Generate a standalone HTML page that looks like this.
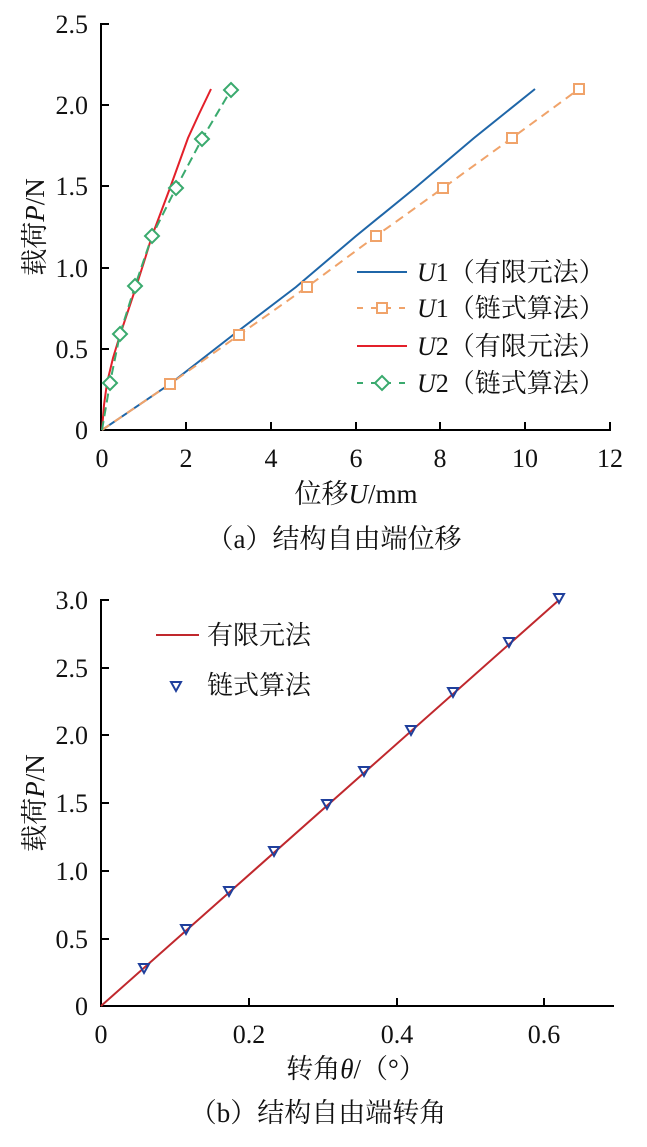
<!DOCTYPE html>
<html><head><meta charset="utf-8"><style>
body{margin:0;background:#fff}
text{font-family:"Liberation Serif","Noto Serif CJK SC",serif;fill:#111}
</style></head><body>
<svg width="647" height="1142" xmlns="http://www.w3.org/2000/svg">
<g stroke="#000" stroke-width="2" fill="none">
<path d="M101,23 V430 H611"/>
<path d="M101,349H109M101,268H109M101,186H109M101,105H109M101,24H109"/>
<path d="M186,430V422M271,430V422M356,430V422M440,430V422M525,430V422M610,430V422"/>
</g>
<g font-size="26" text-anchor="end">
<text x="88" y="439">0</text><text x="88" y="358">0.5</text><text x="88" y="277">1.0</text><text x="88" y="195">1.5</text><text x="88" y="114">2.0</text><text x="88" y="33">2.5</text>
</g>
<g font-size="26" text-anchor="middle">
<text x="102" y="467">0</text><text x="186" y="467">2</text><text x="271" y="467">4</text><text x="356" y="467">6</text><text x="440" y="467">8</text><text x="525" y="467">10</text><text x="610" y="467">12</text>
</g>
<text x="356" y="503" font-size="27" text-anchor="middle">位移<tspan font-style="italic">U</tspan>/mm</text>
<text x="334" y="548" font-size="27" text-anchor="middle">（a）结构自由端位移</text>
<text transform="translate(44,227) rotate(-90)" font-size="27" text-anchor="middle">载荷<tspan font-style="italic">P</tspan>/N</text>
<polyline fill="none" stroke="#1f66a8" stroke-width="2" points="102,430 170,384 233,335 296,287 356,236 415,188 474,138 535,89"/>
<polyline fill="none" stroke="#f0a36a" stroke-width="2" stroke-dasharray="9,6" points="102,430 170,384 239,335 307,287 376,236 443,188 512,138 579,89"/>
<g fill="#fff" stroke="#f0a36a" stroke-width="2">
<rect x="165" y="379" width="10" height="10"/><rect x="234" y="330" width="10" height="10"/><rect x="302" y="282" width="10" height="10"/><rect x="371" y="231" width="10" height="10"/><rect x="438" y="183" width="10" height="10"/><rect x="507" y="133" width="10" height="10"/><rect x="574" y="84" width="10" height="10"/>
</g>
<polyline fill="none" stroke="#e3202a" stroke-width="2" points="102,430 104,405 107,383 113,358 120,335 128,311 136,287 144,262 152,236 161,212 170,188 179,163 188,138 199,114 211,89"/>
<polyline fill="none" stroke="#3aaa6e" stroke-width="2" stroke-dasharray="9,5" points="102,430 110,383 120,334 135,286 152,236 176,188 202,139 231,90"/>
<g fill="#fff" stroke="#3aaa6e" stroke-width="2">
<path d="M110,376l7,7-7,7-7-7z"/><path d="M120,327l7,7-7,7-7-7z"/><path d="M135,279l7,7-7,7-7-7z"/><path d="M152,229l7,7-7,7-7-7z"/><path d="M176,181l7,7-7,7-7-7z"/><path d="M202,132l7,7-7,7-7-7z"/><path d="M231,83l7,7-7,7-7-7z"/>
</g>
<line x1="357" y1="272" x2="407" y2="272" stroke="#1f66a8" stroke-width="2"/>
<line x1="357" y1="308" x2="407" y2="308" stroke="#f0a36a" stroke-width="2" stroke-dasharray="6,8"/>
<rect x="377" y="303" width="10" height="10" fill="#fff" stroke="#f0a36a" stroke-width="2"/>
<line x1="357" y1="346" x2="407" y2="346" stroke="#e3202a" stroke-width="2"/>
<line x1="357" y1="383" x2="407" y2="383" stroke="#3aaa6e" stroke-width="2" stroke-dasharray="6,8"/>
<path d="M382,376l7,7-7,7-7-7z" fill="#fff" stroke="#3aaa6e" stroke-width="2"/>
<g font-size="26">
<text x="417" y="281"><tspan font-style="italic">U</tspan>1（有限元法）</text>
<text x="417" y="317"><tspan font-style="italic">U</tspan>1（链式算法）</text>
<text x="417" y="355"><tspan font-style="italic">U</tspan>2（有限元法）</text>
<text x="417" y="392"><tspan font-style="italic">U</tspan>2（链式算法）</text>
</g>

<g stroke="#000" stroke-width="2" fill="none">
<path d="M101,599 V1006 H614"/>
<path d="M101,939H109M101,871H109M101,803H109M101,735H109M101,668H109M101,600H109"/>
<path d="M249,1006V998M397,1006V998M544,1006V998"/>
</g>
<g font-size="26" text-anchor="end">
<text x="88" y="1015">0</text><text x="88" y="948">0.5</text><text x="88" y="880">1.0</text><text x="88" y="812">1.5</text><text x="88" y="744">2.0</text><text x="88" y="677">2.5</text><text x="88" y="609">3.0</text>
</g>
<g font-size="26" text-anchor="middle">
<text x="101" y="1043">0</text><text x="249" y="1043">0.2</text><text x="397" y="1043">0.4</text><text x="544" y="1043">0.6</text>
</g>
<text x="356" y="1078" font-size="27" text-anchor="middle">转角<tspan font-style="italic">θ</tspan>/（°）</text>
<text x="318" y="1122" font-size="27" text-anchor="middle">（b）结构自由端转角</text>
<text transform="translate(44,803) rotate(-90)" font-size="27" text-anchor="middle">载荷<tspan font-style="italic">P</tspan>/N</text>
<line x1="101" y1="1006" x2="559" y2="600" stroke="#c0282d" stroke-width="2"/>
<g fill="none" stroke="#1f3f9c" stroke-width="2">
<path d="M139,964h10l-5,9z"/><path d="M181,925h10l-5,9z"/><path d="M224,887h10l-5,9z"/><path d="M269,847h10l-5,9z"/><path d="M322,800h10l-5,9z"/><path d="M359,767h10l-5,9z"/><path d="M406,726h10l-5,9z"/><path d="M448,688h10l-5,9z"/><path d="M504,638h10l-5,9z"/><path d="M554,594h10l-5,9z"/>
</g>
<line x1="156" y1="635" x2="199" y2="635" stroke="#c0282d" stroke-width="2"/>
<path d="M171,682h10l-5,9z" fill="none" stroke="#1f3f9c" stroke-width="2"/>
<g font-size="26"><text x="207" y="644">有限元法</text><text x="207" y="694">链式算法</text></g>
</svg>
</body></html>
